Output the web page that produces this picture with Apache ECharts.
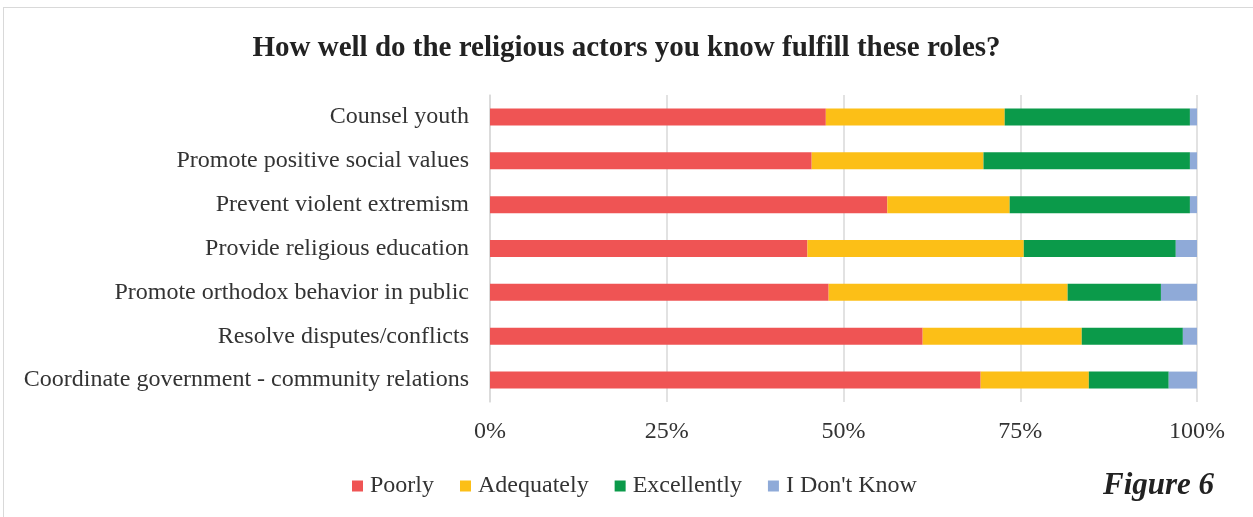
<!DOCTYPE html>
<html>
<head>
<meta charset="utf-8">
<script src="https://cdn.jsdelivr.net/npm/echarts@6/dist/echarts.min.js"></script>
<style>
  html, body { margin: 0; padding: 0; background: #fff; }
  #frame { position: absolute; left: 3px; top: 7px; width: 1260px; height: 520px;
           border-left: 1px solid #d9d9d9; border-top: 1px solid #d9d9d9; box-sizing: border-box; }
  #chart { position: absolute; left: 0; top: 0; width: 1253px; height: 517px; }
</style>
</head>
<body>
<div id="frame"></div>
<div id="chart"></div>
<script>
// Survey roles (top to bottom)
const categories = [
  'Counsel youth',
  'Promote positive social values',
  'Prevent violent extremism',
  'Provide religious education',
  'Promote orthodox behavior in public',
  'Resolve disputes/conflicts',
  'Coordinate government - community relations'
];
// Share of responses, percent
const poorly      = [47.5, 45.5, 56.2, 44.9, 47.9, 61.2, 69.4];
const adequately  = [25.3, 24.3, 17.3, 30.6, 33.8, 22.5, 15.3];
const excellently = [26.2, 29.2, 25.5, 21.5, 13.2, 14.3, 11.3];
const dontKnow    = [1.0, 1.0, 1.0, 3.0, 5.1, 2.0, 4.0];

const seriesNames = ['Poorly', 'Adequately', 'Excellently', "I Don't Know"];
const seriesData = [poorly, adequately, excellently, dontKnow];
const colors = ['#EF5454', '#FCBF17', '#0B9A4A', '#8FAAD8'];
const tickValues = [0, 25, 50, 75, 100];

const serif = '"Liberation Serif", "DejaVu Serif", serif';
const chart = echarts.init(document.getElementById('chart'));

chart.setOption({
  animation: false,
  color: colors,
  title: {
    text: 'How well do the religious actors you know fulfill these roles?',
    left: 'center',
    top: 29,
    textStyle: { fontFamily: serif, fontWeight: 'bold', fontSize: 29, color: '#222' }
  },
  legend: {
    data: seriesNames,
    left: 347,
    top: 469,
    itemWidth: 11,
    itemHeight: 11,
    itemGap: 26,
    icon: 'rect',
    textStyle: { fontFamily: serif, fontSize: 24, color: '#333', padding: [0, 0, 0, 2] }
  },
  graphic: [{
    type: 'text',
    left: 1103,
    top: 470,
    style: { text: 'Figure 6', font: 'italic bold 31px ' + serif, fill: '#222' }
  }],
  grid: { left: 490, right: 56, top: 95, height: 307, containLabel: false },
  xAxis: {
    type: 'value',
    min: 0,
    max: 100,
    interval: 25,
    axisLine: { show: false },
    axisTick: { show: false },
    splitLine: { show: true, lineStyle: { color: '#d9d9d9', width: 1.5 } },
    axisLabel: {
      formatter: v => tickValues.includes(v) ? v + '%' : '',
      fontFamily: serif, fontSize: 24, color: '#333', margin: 18
    }
  },
  yAxis: {
    type: 'category',
    data: categories,
    inverse: true,
    axisLine: { show: true, lineStyle: { color: '#d9d9d9', width: 1.5 } },
    axisTick: { show: false },
    axisLabel: { fontFamily: serif, fontSize: 24, color: '#333', margin: 21 }
  },
  series: seriesNames.map((name, i) => ({
    name,
    type: 'bar',
    stack: 'total',
    barWidth: 17,
    data: seriesData[i]
  }))
});
</script>
</body>
</html>
